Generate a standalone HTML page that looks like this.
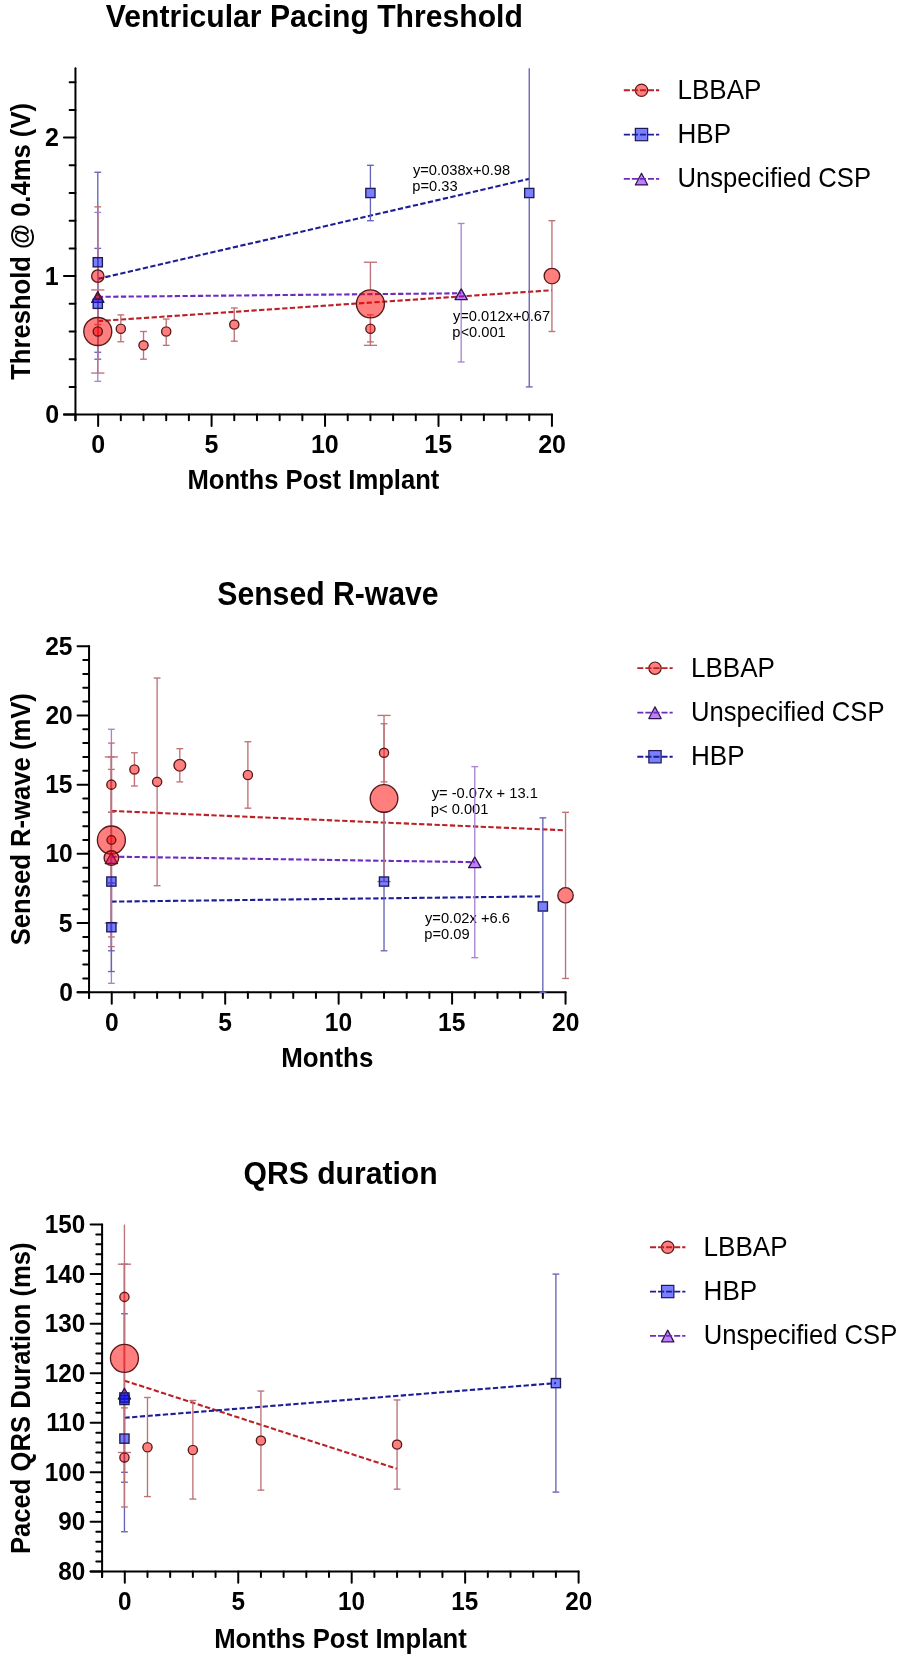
<!DOCTYPE html>
<html><head><meta charset="utf-8"><style>
html,body{margin:0;padding:0;background:#fff;}
svg{display:block;font-family:"Liberation Sans", sans-serif;will-change:transform;filter:blur(0.3px);}
text{fill:#000;}
</style></head><body>
<svg width="901" height="1661" viewBox="0 0 901 1661">
<rect width="901" height="1661" fill="#fff"/>
<text transform="translate(105.8 27.1) scale(1 1.0653)" font-size="30.153" font-weight="bold">Ventricular Pacing Threshold</text>
<line x1="75.45" y1="68.35" x2="75.45" y2="420.3" stroke="#000" stroke-width="2" stroke-linecap="round"/>
<line x1="63.95" y1="414.6" x2="551.94" y2="414.6" stroke="#000" stroke-width="2" stroke-linecap="round"/>
<line x1="63.95" y1="414.6" x2="75.45" y2="414.6" stroke="#000" stroke-width="2" stroke-linecap="round"/>
<text transform="translate(45.25 423.1) scale(1 1.0300)" font-size="25.000" font-weight="bold">0</text>
<line x1="69.65" y1="386.9" x2="75.45" y2="386.9" stroke="#000" stroke-width="2" stroke-linecap="round"/>
<line x1="69.65" y1="359.2" x2="75.45" y2="359.2" stroke="#000" stroke-width="2" stroke-linecap="round"/>
<line x1="69.65" y1="331.5" x2="75.45" y2="331.5" stroke="#000" stroke-width="2" stroke-linecap="round"/>
<line x1="69.65" y1="303.8" x2="75.45" y2="303.8" stroke="#000" stroke-width="2" stroke-linecap="round"/>
<line x1="63.95" y1="276.1" x2="75.45" y2="276.1" stroke="#000" stroke-width="2" stroke-linecap="round"/>
<text transform="translate(44.75 284.6) scale(1 1.0300)" font-size="25.000" font-weight="bold">1</text>
<line x1="69.65" y1="248.4" x2="75.45" y2="248.4" stroke="#000" stroke-width="2" stroke-linecap="round"/>
<line x1="69.65" y1="220.7" x2="75.45" y2="220.7" stroke="#000" stroke-width="2" stroke-linecap="round"/>
<line x1="69.65" y1="193" x2="75.45" y2="193" stroke="#000" stroke-width="2" stroke-linecap="round"/>
<line x1="69.65" y1="165.3" x2="75.45" y2="165.3" stroke="#000" stroke-width="2" stroke-linecap="round"/>
<line x1="63.95" y1="137.6" x2="75.45" y2="137.6" stroke="#000" stroke-width="2" stroke-linecap="round"/>
<text transform="translate(45 146.1) scale(1 1.0300)" font-size="25.000" font-weight="bold">2</text>
<line x1="69.65" y1="109.9" x2="75.45" y2="109.9" stroke="#000" stroke-width="2" stroke-linecap="round"/>
<line x1="69.65" y1="82.2" x2="75.45" y2="82.2" stroke="#000" stroke-width="2" stroke-linecap="round"/>
<line x1="75.45" y1="414.6" x2="75.45" y2="420.2" stroke="#000" stroke-width="2" stroke-linecap="round"/>
<line x1="98.14" y1="414.6" x2="98.14" y2="426" stroke="#000" stroke-width="2" stroke-linecap="round"/>
<text transform="translate(91.27 453.4) scale(1 1.0300)" font-size="25.000" font-weight="bold">0</text>
<line x1="120.83" y1="414.6" x2="120.83" y2="420.2" stroke="#000" stroke-width="2" stroke-linecap="round"/>
<line x1="143.52" y1="414.6" x2="143.52" y2="420.2" stroke="#000" stroke-width="2" stroke-linecap="round"/>
<line x1="166.21" y1="414.6" x2="166.21" y2="420.2" stroke="#000" stroke-width="2" stroke-linecap="round"/>
<line x1="188.9" y1="414.6" x2="188.9" y2="420.2" stroke="#000" stroke-width="2" stroke-linecap="round"/>
<line x1="211.59" y1="414.6" x2="211.59" y2="426" stroke="#000" stroke-width="2" stroke-linecap="round"/>
<text transform="translate(204.59 453.4) scale(1 1.0300)" font-size="25.000" font-weight="bold">5</text>
<line x1="234.28" y1="414.6" x2="234.28" y2="420.2" stroke="#000" stroke-width="2" stroke-linecap="round"/>
<line x1="256.97" y1="414.6" x2="256.97" y2="420.2" stroke="#000" stroke-width="2" stroke-linecap="round"/>
<line x1="279.66" y1="414.6" x2="279.66" y2="420.2" stroke="#000" stroke-width="2" stroke-linecap="round"/>
<line x1="302.35" y1="414.6" x2="302.35" y2="420.2" stroke="#000" stroke-width="2" stroke-linecap="round"/>
<line x1="325.04" y1="414.6" x2="325.04" y2="426" stroke="#000" stroke-width="2" stroke-linecap="round"/>
<text transform="translate(310.92 453.4) scale(1 1.0300)" font-size="25.000" font-weight="bold">10</text>
<line x1="347.73" y1="414.6" x2="347.73" y2="420.2" stroke="#000" stroke-width="2" stroke-linecap="round"/>
<line x1="370.42" y1="414.6" x2="370.42" y2="420.2" stroke="#000" stroke-width="2" stroke-linecap="round"/>
<line x1="393.11" y1="414.6" x2="393.11" y2="420.2" stroke="#000" stroke-width="2" stroke-linecap="round"/>
<line x1="415.8" y1="414.6" x2="415.8" y2="420.2" stroke="#000" stroke-width="2" stroke-linecap="round"/>
<line x1="438.49" y1="414.6" x2="438.49" y2="426" stroke="#000" stroke-width="2" stroke-linecap="round"/>
<text transform="translate(424.24 453.4) scale(1 1.0300)" font-size="25.000" font-weight="bold">15</text>
<line x1="461.18" y1="414.6" x2="461.18" y2="420.2" stroke="#000" stroke-width="2" stroke-linecap="round"/>
<line x1="483.87" y1="414.6" x2="483.87" y2="420.2" stroke="#000" stroke-width="2" stroke-linecap="round"/>
<line x1="506.56" y1="414.6" x2="506.56" y2="420.2" stroke="#000" stroke-width="2" stroke-linecap="round"/>
<line x1="529.25" y1="414.6" x2="529.25" y2="420.2" stroke="#000" stroke-width="2" stroke-linecap="round"/>
<line x1="551.94" y1="414.6" x2="551.94" y2="426" stroke="#000" stroke-width="2" stroke-linecap="round"/>
<text transform="translate(538.19 453.4) scale(1 1.0300)" font-size="25.000" font-weight="bold">20</text>
<text transform="translate(187.41 488.9) scale(1 1.0600)" font-size="25.641" font-weight="bold">Months Post Implant</text>
<text transform="translate(29.8 379.86) rotate(-90) scale(1 1.0837)" font-size="25.619" font-weight="bold">Threshold @ 0.4ms (V)</text>
<text transform="translate(412.9 174.9) scale(1 1.0000)" font-size="14.700" font-weight="normal">y=0.038x+0.98</text>
<text transform="translate(412.27 191) scale(1 1.0000)" font-size="14.700" font-weight="normal">p=0.33</text>
<text transform="translate(452.9 320.9) scale(1 1.0000)" font-size="14.700" font-weight="normal">y=0.012x+0.67</text>
<text transform="translate(452.27 336.5) scale(1 1.0000)" font-size="14.700" font-weight="normal">p&lt;0.001</text>
<line x1="97.79" y1="278.87" x2="529.25" y2="178.87" stroke="#1d1d98" stroke-width="2.1" stroke-dasharray="5.3 2.4"/>
<line x1="97.79" y1="296.88" x2="461.18" y2="293.27" stroke="#6c2cc0" stroke-width="2.1" stroke-dasharray="5.3 2.4"/>
<line x1="97.79" y1="321.11" x2="551.94" y2="290.23" stroke="#bb2026" stroke-width="2.1" stroke-dasharray="5.3 2.4"/>
<line x1="97.79" y1="172.23" x2="97.79" y2="257.05" stroke="#6664b6" stroke-width="1.35" />
<line x1="97.79" y1="267.45" x2="97.79" y2="352.28" stroke="#6664b6" stroke-width="1.35" />
<line x1="94.39" y1="352.28" x2="101.19" y2="352.28" stroke="#6664b6" stroke-width="1.35" />
<line x1="94.39" y1="172.23" x2="101.19" y2="172.23" stroke="#6664b6" stroke-width="1.35" />
<line x1="97.79" y1="248.4" x2="97.79" y2="298.6" stroke="#6664b6" stroke-width="1.35" />
<line x1="97.79" y1="309" x2="97.79" y2="359.2" stroke="#6664b6" stroke-width="1.35" />
<line x1="94.39" y1="359.2" x2="101.19" y2="359.2" stroke="#6664b6" stroke-width="1.35" />
<line x1="94.39" y1="248.4" x2="101.19" y2="248.4" stroke="#6664b6" stroke-width="1.35" />
<line x1="97.79" y1="212.39" x2="97.79" y2="291.38" stroke="#aa84d2" stroke-width="1.35" />
<line x1="97.79" y1="302.38" x2="97.79" y2="381.36" stroke="#aa84d2" stroke-width="1.35" />
<line x1="94.39" y1="381.36" x2="101.19" y2="381.36" stroke="#aa84d2" stroke-width="1.35" />
<line x1="94.39" y1="212.39" x2="101.19" y2="212.39" stroke="#aa84d2" stroke-width="1.35" />
<line x1="97.79" y1="206.85" x2="97.79" y2="269.3" stroke="#bd7178" stroke-width="1.35" />
<line x1="97.79" y1="282.9" x2="97.79" y2="345.35" stroke="#bd7178" stroke-width="1.35" />
<line x1="94.39" y1="345.35" x2="101.19" y2="345.35" stroke="#bd7178" stroke-width="1.35" />
<line x1="94.39" y1="206.85" x2="101.19" y2="206.85" stroke="#bd7178" stroke-width="1.35" />
<line x1="97.79" y1="289.95" x2="97.79" y2="316.9" stroke="#bd7178" stroke-width="1.35" />
<line x1="97.79" y1="346.1" x2="97.79" y2="373.05" stroke="#bd7178" stroke-width="1.35" />
<line x1="91.19" y1="373.05" x2="104.39" y2="373.05" stroke="#bd7178" stroke-width="1.35" />
<line x1="91.19" y1="289.95" x2="104.39" y2="289.95" stroke="#bd7178" stroke-width="1.35" />
<line x1="97.79" y1="324.58" x2="97.79" y2="331.5" stroke="#bd7178" stroke-width="1.35" />
<line x1="97.79" y1="331.5" x2="97.79" y2="338.43" stroke="#bd7178" stroke-width="1.35" />
<line x1="94.39" y1="324.58" x2="101.19" y2="324.58" stroke="#bd7178" stroke-width="1.35" />
<line x1="120.83" y1="314.88" x2="120.83" y2="323.43" stroke="#bd7178" stroke-width="1.35" />
<line x1="120.83" y1="334.03" x2="120.83" y2="341.75" stroke="#bd7178" stroke-width="1.35" />
<line x1="117.43" y1="341.75" x2="124.23" y2="341.75" stroke="#bd7178" stroke-width="1.35" />
<line x1="117.43" y1="314.88" x2="124.23" y2="314.88" stroke="#bd7178" stroke-width="1.35" />
<line x1="143.52" y1="331.5" x2="143.52" y2="340.05" stroke="#bd7178" stroke-width="1.35" />
<line x1="143.52" y1="350.65" x2="143.52" y2="359.2" stroke="#bd7178" stroke-width="1.35" />
<line x1="140.12" y1="359.2" x2="146.92" y2="359.2" stroke="#bd7178" stroke-width="1.35" />
<line x1="140.12" y1="331.5" x2="146.92" y2="331.5" stroke="#bd7178" stroke-width="1.35" />
<line x1="166.21" y1="319.04" x2="166.21" y2="326.2" stroke="#bd7178" stroke-width="1.35" />
<line x1="166.21" y1="336.8" x2="166.21" y2="345.35" stroke="#bd7178" stroke-width="1.35" />
<line x1="162.81" y1="345.35" x2="169.61" y2="345.35" stroke="#bd7178" stroke-width="1.35" />
<line x1="162.81" y1="319.04" x2="169.61" y2="319.04" stroke="#bd7178" stroke-width="1.35" />
<line x1="234.28" y1="307.96" x2="234.28" y2="319.28" stroke="#bd7178" stroke-width="1.35" />
<line x1="234.28" y1="329.88" x2="234.28" y2="341.2" stroke="#bd7178" stroke-width="1.35" />
<line x1="230.88" y1="341.2" x2="237.68" y2="341.2" stroke="#bd7178" stroke-width="1.35" />
<line x1="230.88" y1="307.96" x2="237.68" y2="307.96" stroke="#bd7178" stroke-width="1.35" />
<line x1="370.42" y1="165.3" x2="370.42" y2="187.8" stroke="#6664b6" stroke-width="1.35" />
<line x1="370.42" y1="198.2" x2="370.42" y2="220.7" stroke="#6664b6" stroke-width="1.35" />
<line x1="367.02" y1="220.7" x2="373.82" y2="220.7" stroke="#6664b6" stroke-width="1.35" />
<line x1="367.02" y1="165.3" x2="373.82" y2="165.3" stroke="#6664b6" stroke-width="1.35" />
<line x1="370.42" y1="262.25" x2="370.42" y2="289.2" stroke="#bd7178" stroke-width="1.35" />
<line x1="370.42" y1="318.4" x2="370.42" y2="345.35" stroke="#bd7178" stroke-width="1.35" />
<line x1="363.82" y1="345.35" x2="377.02" y2="345.35" stroke="#bd7178" stroke-width="1.35" />
<line x1="363.82" y1="262.25" x2="377.02" y2="262.25" stroke="#bd7178" stroke-width="1.35" />
<line x1="370.42" y1="314.88" x2="370.42" y2="323.43" stroke="#bd7178" stroke-width="1.35" />
<line x1="370.42" y1="334.03" x2="370.42" y2="341.89" stroke="#bd7178" stroke-width="1.35" />
<line x1="367.02" y1="341.89" x2="373.82" y2="341.89" stroke="#bd7178" stroke-width="1.35" />
<line x1="367.02" y1="314.88" x2="373.82" y2="314.88" stroke="#bd7178" stroke-width="1.35" />
<line x1="461.18" y1="223.47" x2="461.18" y2="288.61" stroke="#aa84d2" stroke-width="1.35" />
<line x1="461.18" y1="299.61" x2="461.18" y2="361.97" stroke="#aa84d2" stroke-width="1.35" />
<line x1="457.78" y1="361.97" x2="464.58" y2="361.97" stroke="#aa84d2" stroke-width="1.35" />
<line x1="457.78" y1="223.47" x2="464.58" y2="223.47" stroke="#aa84d2" stroke-width="1.35" />
<line x1="529.25" y1="68.35" x2="529.25" y2="187.8" stroke="#6664b6" stroke-width="1.35" />
<line x1="529.25" y1="198.2" x2="529.25" y2="386.9" stroke="#6664b6" stroke-width="1.35" />
<line x1="525.85" y1="386.9" x2="532.65" y2="386.9" stroke="#6664b6" stroke-width="1.35" />
<line x1="551.94" y1="220.7" x2="551.94" y2="267.7" stroke="#bd7178" stroke-width="1.35" />
<line x1="551.94" y1="284.5" x2="551.94" y2="331.5" stroke="#bd7178" stroke-width="1.35" />
<line x1="548.54" y1="331.5" x2="555.34" y2="331.5" stroke="#bd7178" stroke-width="1.35" />
<line x1="548.54" y1="220.7" x2="555.34" y2="220.7" stroke="#bd7178" stroke-width="1.35" />
<path d="M97.79 291.68L103.89 302.38L91.69 302.38Z" fill="rgba(128,0,255,0.5)" stroke="#2e1448" stroke-width="1.35" stroke-linejoin="round"/>
<path d="M461.18 288.91L467.28 299.61L455.08 299.61Z" fill="rgba(128,0,255,0.5)" stroke="#2e1448" stroke-width="1.35" stroke-linejoin="round"/>
<rect x="93.19" y="257.65" width="9.2" height="9.2" fill="rgba(0,10,255,0.52)" stroke="#1c1c55" stroke-width="1.35"/>
<rect x="93.19" y="299.2" width="9.2" height="9.2" fill="rgba(0,10,255,0.52)" stroke="#1c1c55" stroke-width="1.35"/>
<rect x="365.82" y="188.4" width="9.2" height="9.2" fill="rgba(0,10,255,0.52)" stroke="#1c1c55" stroke-width="1.35"/>
<rect x="524.65" y="188.4" width="9.2" height="9.2" fill="rgba(0,10,255,0.52)" stroke="#1c1c55" stroke-width="1.35"/>
<circle cx="97.79" cy="276.1" r="6.2" fill="rgba(255,0,0,0.5)" stroke="#5a1818" stroke-width="1.35"/>
<circle cx="97.79" cy="296.88" r="2.2" fill="rgba(255,0,0,0.5)" stroke="#5a1818" stroke-width="1.35"/>
<circle cx="97.79" cy="331.5" r="14" fill="rgba(255,0,0,0.5)" stroke="#5a1818" stroke-width="1.35"/>
<circle cx="97.79" cy="331.5" r="4.6" fill="rgba(255,0,0,0.5)" stroke="#5a1818" stroke-width="1.35"/>
<circle cx="120.83" cy="328.73" r="4.6" fill="rgba(255,0,0,0.5)" stroke="#5a1818" stroke-width="1.35"/>
<circle cx="143.52" cy="345.35" r="4.6" fill="rgba(255,0,0,0.5)" stroke="#5a1818" stroke-width="1.35"/>
<circle cx="166.21" cy="331.5" r="4.6" fill="rgba(255,0,0,0.5)" stroke="#5a1818" stroke-width="1.35"/>
<circle cx="234.28" cy="324.58" r="4.6" fill="rgba(255,0,0,0.5)" stroke="#5a1818" stroke-width="1.35"/>
<circle cx="370.42" cy="303.8" r="14" fill="rgba(255,0,0,0.5)" stroke="#5a1818" stroke-width="1.35"/>
<circle cx="370.42" cy="328.73" r="4.6" fill="rgba(255,0,0,0.5)" stroke="#5a1818" stroke-width="1.35"/>
<circle cx="551.94" cy="276.1" r="7.8" fill="rgba(255,0,0,0.5)" stroke="#5a1818" stroke-width="1.35"/>
<circle cx="641.5" cy="90.25" r="6.15" fill="rgba(255,0,0,0.5)" stroke="#5a1818" stroke-width="1.2"/>
<line x1="623.8" y1="90.25" x2="659.2" y2="90.25" stroke="#bb2026" stroke-width="1.8" stroke-dasharray="6.1 1.95"/>
<text transform="translate(677.42 98.7) scale(1 1.0489)" font-size="26.052" font-weight="normal">LBBAP</text>
<rect x="635.35" y="128.4" width="12.3" height="12.3" fill="rgba(0,10,255,0.52)" stroke="#1c1c55" stroke-width="1.2"/>
<line x1="623.8" y1="134.55" x2="659.2" y2="134.55" stroke="#1d1d98" stroke-width="1.8" stroke-dasharray="6.1 1.95"/>
<text transform="translate(677.41 143) scale(1 1.0472)" font-size="26.094" font-weight="normal">HBP</text>
<path d="M641.5 173.25L647.7 184.95L635.3 184.95Z" fill="rgba(128,0,255,0.5)" stroke="#2e1448" stroke-width="1.2" stroke-linejoin="round"/>
<line x1="623.8" y1="178.95" x2="659.2" y2="178.95" stroke="#6c2cc0" stroke-width="1.8" stroke-dasharray="6.1 1.95"/>
<text transform="translate(677.45 187.4) scale(1 1.0663)" font-size="25.626" font-weight="normal">Unspecified CSP</text>
<text transform="translate(217.29 605.3) scale(1 1.0740)" font-size="30.179" font-weight="bold">Sensed R-wave</text>
<line x1="89.05" y1="646.2" x2="89.05" y2="998" stroke="#000" stroke-width="2" stroke-linecap="round"/>
<line x1="77.55" y1="992.3" x2="565.54" y2="992.3" stroke="#000" stroke-width="2" stroke-linecap="round"/>
<line x1="77.55" y1="992.3" x2="89.05" y2="992.3" stroke="#000" stroke-width="2" stroke-linecap="round"/>
<text transform="translate(59.15 1000.8) scale(1 1.0200)" font-size="24.600" font-weight="bold">0</text>
<line x1="83.25" y1="978.46" x2="89.05" y2="978.46" stroke="#000" stroke-width="2" stroke-linecap="round"/>
<line x1="83.25" y1="964.61" x2="89.05" y2="964.61" stroke="#000" stroke-width="2" stroke-linecap="round"/>
<line x1="83.25" y1="950.77" x2="89.05" y2="950.77" stroke="#000" stroke-width="2" stroke-linecap="round"/>
<line x1="83.25" y1="936.92" x2="89.05" y2="936.92" stroke="#000" stroke-width="2" stroke-linecap="round"/>
<line x1="77.55" y1="923.08" x2="89.05" y2="923.08" stroke="#000" stroke-width="2" stroke-linecap="round"/>
<text transform="translate(58.66 931.58) scale(1 1.0200)" font-size="24.600" font-weight="bold">5</text>
<line x1="83.25" y1="909.24" x2="89.05" y2="909.24" stroke="#000" stroke-width="2" stroke-linecap="round"/>
<line x1="83.25" y1="895.39" x2="89.05" y2="895.39" stroke="#000" stroke-width="2" stroke-linecap="round"/>
<line x1="83.25" y1="881.55" x2="89.05" y2="881.55" stroke="#000" stroke-width="2" stroke-linecap="round"/>
<line x1="83.25" y1="867.7" x2="89.05" y2="867.7" stroke="#000" stroke-width="2" stroke-linecap="round"/>
<line x1="77.55" y1="853.86" x2="89.05" y2="853.86" stroke="#000" stroke-width="2" stroke-linecap="round"/>
<text transform="translate(45.38 862.36) scale(1 1.0200)" font-size="24.600" font-weight="bold">10</text>
<line x1="83.25" y1="840.02" x2="89.05" y2="840.02" stroke="#000" stroke-width="2" stroke-linecap="round"/>
<line x1="83.25" y1="826.17" x2="89.05" y2="826.17" stroke="#000" stroke-width="2" stroke-linecap="round"/>
<line x1="83.25" y1="812.33" x2="89.05" y2="812.33" stroke="#000" stroke-width="2" stroke-linecap="round"/>
<line x1="83.25" y1="798.48" x2="89.05" y2="798.48" stroke="#000" stroke-width="2" stroke-linecap="round"/>
<line x1="77.55" y1="784.64" x2="89.05" y2="784.64" stroke="#000" stroke-width="2" stroke-linecap="round"/>
<text transform="translate(45.13 793.14) scale(1 1.0200)" font-size="24.600" font-weight="bold">15</text>
<line x1="83.25" y1="770.8" x2="89.05" y2="770.8" stroke="#000" stroke-width="2" stroke-linecap="round"/>
<line x1="83.25" y1="756.95" x2="89.05" y2="756.95" stroke="#000" stroke-width="2" stroke-linecap="round"/>
<line x1="83.25" y1="743.11" x2="89.05" y2="743.11" stroke="#000" stroke-width="2" stroke-linecap="round"/>
<line x1="83.25" y1="729.26" x2="89.05" y2="729.26" stroke="#000" stroke-width="2" stroke-linecap="round"/>
<line x1="77.55" y1="715.42" x2="89.05" y2="715.42" stroke="#000" stroke-width="2" stroke-linecap="round"/>
<text transform="translate(45.38 723.92) scale(1 1.0200)" font-size="24.600" font-weight="bold">20</text>
<line x1="83.25" y1="701.58" x2="89.05" y2="701.58" stroke="#000" stroke-width="2" stroke-linecap="round"/>
<line x1="83.25" y1="687.73" x2="89.05" y2="687.73" stroke="#000" stroke-width="2" stroke-linecap="round"/>
<line x1="83.25" y1="673.89" x2="89.05" y2="673.89" stroke="#000" stroke-width="2" stroke-linecap="round"/>
<line x1="83.25" y1="660.04" x2="89.05" y2="660.04" stroke="#000" stroke-width="2" stroke-linecap="round"/>
<line x1="77.55" y1="646.2" x2="89.05" y2="646.2" stroke="#000" stroke-width="2" stroke-linecap="round"/>
<text transform="translate(45.13 654.7) scale(1 1.0200)" font-size="24.600" font-weight="bold">25</text>
<line x1="89.05" y1="992.3" x2="89.05" y2="997.9" stroke="#000" stroke-width="2" stroke-linecap="round"/>
<line x1="111.74" y1="992.3" x2="111.74" y2="1003.7" stroke="#000" stroke-width="2" stroke-linecap="round"/>
<text transform="translate(104.97 1031.2) scale(1 1.0200)" font-size="24.600" font-weight="bold">0</text>
<line x1="134.43" y1="992.3" x2="134.43" y2="997.9" stroke="#000" stroke-width="2" stroke-linecap="round"/>
<line x1="157.12" y1="992.3" x2="157.12" y2="997.9" stroke="#000" stroke-width="2" stroke-linecap="round"/>
<line x1="179.81" y1="992.3" x2="179.81" y2="997.9" stroke="#000" stroke-width="2" stroke-linecap="round"/>
<line x1="202.5" y1="992.3" x2="202.5" y2="997.9" stroke="#000" stroke-width="2" stroke-linecap="round"/>
<line x1="225.19" y1="992.3" x2="225.19" y2="1003.7" stroke="#000" stroke-width="2" stroke-linecap="round"/>
<text transform="translate(218.3 1031.2) scale(1 1.0200)" font-size="24.600" font-weight="bold">5</text>
<line x1="247.88" y1="992.3" x2="247.88" y2="997.9" stroke="#000" stroke-width="2" stroke-linecap="round"/>
<line x1="270.57" y1="992.3" x2="270.57" y2="997.9" stroke="#000" stroke-width="2" stroke-linecap="round"/>
<line x1="293.26" y1="992.3" x2="293.26" y2="997.9" stroke="#000" stroke-width="2" stroke-linecap="round"/>
<line x1="315.95" y1="992.3" x2="315.95" y2="997.9" stroke="#000" stroke-width="2" stroke-linecap="round"/>
<line x1="338.64" y1="992.3" x2="338.64" y2="1003.7" stroke="#000" stroke-width="2" stroke-linecap="round"/>
<text transform="translate(324.74 1031.2) scale(1 1.0200)" font-size="24.600" font-weight="bold">10</text>
<line x1="361.33" y1="992.3" x2="361.33" y2="997.9" stroke="#000" stroke-width="2" stroke-linecap="round"/>
<line x1="384.02" y1="992.3" x2="384.02" y2="997.9" stroke="#000" stroke-width="2" stroke-linecap="round"/>
<line x1="406.71" y1="992.3" x2="406.71" y2="997.9" stroke="#000" stroke-width="2" stroke-linecap="round"/>
<line x1="429.4" y1="992.3" x2="429.4" y2="997.9" stroke="#000" stroke-width="2" stroke-linecap="round"/>
<line x1="452.09" y1="992.3" x2="452.09" y2="1003.7" stroke="#000" stroke-width="2" stroke-linecap="round"/>
<text transform="translate(438.07 1031.2) scale(1 1.0200)" font-size="24.600" font-weight="bold">15</text>
<line x1="474.78" y1="992.3" x2="474.78" y2="997.9" stroke="#000" stroke-width="2" stroke-linecap="round"/>
<line x1="497.47" y1="992.3" x2="497.47" y2="997.9" stroke="#000" stroke-width="2" stroke-linecap="round"/>
<line x1="520.16" y1="992.3" x2="520.16" y2="997.9" stroke="#000" stroke-width="2" stroke-linecap="round"/>
<line x1="542.85" y1="992.3" x2="542.85" y2="997.9" stroke="#000" stroke-width="2" stroke-linecap="round"/>
<line x1="565.54" y1="992.3" x2="565.54" y2="1003.7" stroke="#000" stroke-width="2" stroke-linecap="round"/>
<text transform="translate(552.01 1031.2) scale(1 1.0200)" font-size="24.600" font-weight="bold">20</text>
<text transform="translate(281.18 1067.2) scale(1 1.0370)" font-size="25.930" font-weight="bold">Months</text>
<text transform="translate(29.7 945.37) rotate(-90) scale(1 1.0764)" font-size="25.656" font-weight="bold">Sensed R-wave (mV)</text>
<text transform="translate(431.7 798.2) scale(1 1.0000)" font-size="14.700" font-weight="normal">y= -0.07x + 13.1</text>
<text transform="translate(430.87 813.7) scale(1 1.0000)" font-size="14.700" font-weight="normal">p&lt; 0.001</text>
<text transform="translate(425 923.1) scale(1 1.0000)" font-size="14.700" font-weight="normal">y=0.02x +6.6</text>
<text transform="translate(424.27 938.9) scale(1 1.0000)" font-size="14.700" font-weight="normal">p=0.09</text>
<line x1="111.39" y1="810.94" x2="565.54" y2="830.33" stroke="#bb2026" stroke-width="2.1" stroke-dasharray="5.3 2.4"/>
<line x1="111.39" y1="856.63" x2="474.78" y2="862.17" stroke="#6c2cc0" stroke-width="2.1" stroke-dasharray="5.3 2.4"/>
<line x1="111.39" y1="901.62" x2="542.85" y2="896.36" stroke="#1d1d98" stroke-width="2.1" stroke-dasharray="5.3 2.4"/>
<line x1="111.39" y1="729.26" x2="111.39" y2="852.51" stroke="#aa84d2" stroke-width="1.35" />
<line x1="111.39" y1="863.51" x2="111.39" y2="983.3" stroke="#aa84d2" stroke-width="1.35" />
<line x1="107.99" y1="983.3" x2="114.79" y2="983.3" stroke="#aa84d2" stroke-width="1.35" />
<line x1="107.99" y1="729.26" x2="114.79" y2="729.26" stroke="#aa84d2" stroke-width="1.35" />
<line x1="111.39" y1="812.33" x2="111.39" y2="876.35" stroke="#6664b6" stroke-width="1.35" />
<line x1="111.39" y1="886.75" x2="111.39" y2="950.77" stroke="#6664b6" stroke-width="1.35" />
<line x1="107.99" y1="950.77" x2="114.79" y2="950.77" stroke="#6664b6" stroke-width="1.35" />
<line x1="107.99" y1="812.33" x2="114.79" y2="812.33" stroke="#6664b6" stroke-width="1.35" />
<line x1="111.39" y1="882.93" x2="111.39" y2="922.03" stroke="#6664b6" stroke-width="1.35" />
<line x1="111.39" y1="932.43" x2="111.39" y2="971.53" stroke="#6664b6" stroke-width="1.35" />
<line x1="107.99" y1="971.53" x2="114.79" y2="971.53" stroke="#6664b6" stroke-width="1.35" />
<line x1="107.99" y1="882.93" x2="114.79" y2="882.93" stroke="#6664b6" stroke-width="1.35" />
<line x1="111.39" y1="756.95" x2="111.39" y2="779.34" stroke="#bd7178" stroke-width="1.35" />
<line x1="111.39" y1="789.94" x2="111.39" y2="812.33" stroke="#bd7178" stroke-width="1.35" />
<line x1="107.99" y1="812.33" x2="114.79" y2="812.33" stroke="#bd7178" stroke-width="1.35" />
<line x1="107.99" y1="756.95" x2="114.79" y2="756.95" stroke="#bd7178" stroke-width="1.35" />
<line x1="111.39" y1="756.95" x2="111.39" y2="825.42" stroke="#bd7178" stroke-width="1.35" />
<line x1="111.39" y1="854.62" x2="111.39" y2="923.08" stroke="#bd7178" stroke-width="1.35" />
<line x1="104.79" y1="923.08" x2="117.99" y2="923.08" stroke="#bd7178" stroke-width="1.35" />
<line x1="104.79" y1="756.95" x2="117.99" y2="756.95" stroke="#bd7178" stroke-width="1.35" />
<line x1="111.39" y1="743.11" x2="111.39" y2="834.72" stroke="#bd7178" stroke-width="1.35" />
<line x1="111.39" y1="845.32" x2="111.39" y2="936.92" stroke="#bd7178" stroke-width="1.35" />
<line x1="107.99" y1="936.92" x2="114.79" y2="936.92" stroke="#bd7178" stroke-width="1.35" />
<line x1="107.99" y1="743.11" x2="114.79" y2="743.11" stroke="#bd7178" stroke-width="1.35" />
<line x1="111.39" y1="769.41" x2="111.39" y2="850.11" stroke="#bd7178" stroke-width="1.35" />
<line x1="111.39" y1="865.91" x2="111.39" y2="946.61" stroke="#bd7178" stroke-width="1.35" />
<line x1="107.99" y1="946.61" x2="114.79" y2="946.61" stroke="#bd7178" stroke-width="1.35" />
<line x1="107.99" y1="769.41" x2="114.79" y2="769.41" stroke="#bd7178" stroke-width="1.35" />
<line x1="134.43" y1="752.8" x2="134.43" y2="764.11" stroke="#bd7178" stroke-width="1.35" />
<line x1="134.43" y1="774.71" x2="134.43" y2="786.02" stroke="#bd7178" stroke-width="1.35" />
<line x1="131.03" y1="786.02" x2="137.83" y2="786.02" stroke="#bd7178" stroke-width="1.35" />
<line x1="131.03" y1="752.8" x2="137.83" y2="752.8" stroke="#bd7178" stroke-width="1.35" />
<line x1="157.12" y1="678.04" x2="157.12" y2="776.57" stroke="#bd7178" stroke-width="1.35" />
<line x1="157.12" y1="787.17" x2="157.12" y2="885.7" stroke="#bd7178" stroke-width="1.35" />
<line x1="153.72" y1="885.7" x2="160.52" y2="885.7" stroke="#bd7178" stroke-width="1.35" />
<line x1="153.72" y1="678.04" x2="160.52" y2="678.04" stroke="#bd7178" stroke-width="1.35" />
<line x1="179.81" y1="748.65" x2="179.81" y2="758.86" stroke="#bd7178" stroke-width="1.35" />
<line x1="179.81" y1="771.66" x2="179.81" y2="781.87" stroke="#bd7178" stroke-width="1.35" />
<line x1="176.41" y1="781.87" x2="183.21" y2="781.87" stroke="#bd7178" stroke-width="1.35" />
<line x1="176.41" y1="748.65" x2="183.21" y2="748.65" stroke="#bd7178" stroke-width="1.35" />
<line x1="247.88" y1="741.72" x2="247.88" y2="769.65" stroke="#bd7178" stroke-width="1.35" />
<line x1="247.88" y1="780.25" x2="247.88" y2="808.17" stroke="#bd7178" stroke-width="1.35" />
<line x1="244.48" y1="808.17" x2="251.28" y2="808.17" stroke="#bd7178" stroke-width="1.35" />
<line x1="244.48" y1="741.72" x2="251.28" y2="741.72" stroke="#bd7178" stroke-width="1.35" />
<line x1="384.02" y1="812.33" x2="384.02" y2="876.35" stroke="#6664b6" stroke-width="1.35" />
<line x1="384.02" y1="886.75" x2="384.02" y2="950.77" stroke="#6664b6" stroke-width="1.35" />
<line x1="380.62" y1="950.77" x2="387.42" y2="950.77" stroke="#6664b6" stroke-width="1.35" />
<line x1="380.62" y1="812.33" x2="387.42" y2="812.33" stroke="#6664b6" stroke-width="1.35" />
<line x1="384.02" y1="715.42" x2="384.02" y2="784.08" stroke="#bd7178" stroke-width="1.35" />
<line x1="384.02" y1="812.88" x2="384.02" y2="881.55" stroke="#bd7178" stroke-width="1.35" />
<line x1="377.42" y1="881.55" x2="390.62" y2="881.55" stroke="#bd7178" stroke-width="1.35" />
<line x1="377.42" y1="715.42" x2="390.62" y2="715.42" stroke="#bd7178" stroke-width="1.35" />
<line x1="384.02" y1="723.73" x2="384.02" y2="747.5" stroke="#bd7178" stroke-width="1.35" />
<line x1="384.02" y1="758.1" x2="384.02" y2="781.87" stroke="#bd7178" stroke-width="1.35" />
<line x1="380.62" y1="781.87" x2="387.42" y2="781.87" stroke="#bd7178" stroke-width="1.35" />
<line x1="380.62" y1="723.73" x2="387.42" y2="723.73" stroke="#bd7178" stroke-width="1.35" />
<line x1="474.78" y1="766.64" x2="474.78" y2="856.67" stroke="#aa84d2" stroke-width="1.35" />
<line x1="474.78" y1="867.67" x2="474.78" y2="957.69" stroke="#aa84d2" stroke-width="1.35" />
<line x1="471.38" y1="957.69" x2="478.18" y2="957.69" stroke="#aa84d2" stroke-width="1.35" />
<line x1="471.38" y1="766.64" x2="478.18" y2="766.64" stroke="#aa84d2" stroke-width="1.35" />
<line x1="542.85" y1="817.87" x2="542.85" y2="901.27" stroke="#6664b6" stroke-width="1.35" />
<line x1="542.85" y1="911.67" x2="542.85" y2="992.3" stroke="#6664b6" stroke-width="1.35" />
<line x1="539.45" y1="992.3" x2="546.25" y2="992.3" stroke="#6664b6" stroke-width="1.35" />
<line x1="539.45" y1="817.87" x2="546.25" y2="817.87" stroke="#6664b6" stroke-width="1.35" />
<line x1="565.54" y1="812.33" x2="565.54" y2="887.09" stroke="#bd7178" stroke-width="1.35" />
<line x1="565.54" y1="903.69" x2="565.54" y2="978.46" stroke="#bd7178" stroke-width="1.35" />
<line x1="562.14" y1="978.46" x2="568.94" y2="978.46" stroke="#bd7178" stroke-width="1.35" />
<line x1="562.14" y1="812.33" x2="568.94" y2="812.33" stroke="#bd7178" stroke-width="1.35" />
<path d="M111.39 852.81L117.49 863.51L105.29 863.51Z" fill="rgba(128,0,255,0.5)" stroke="#2e1448" stroke-width="1.35" stroke-linejoin="round"/>
<path d="M474.78 856.97L480.88 867.67L468.68 867.67Z" fill="rgba(128,0,255,0.5)" stroke="#2e1448" stroke-width="1.35" stroke-linejoin="round"/>
<rect x="106.79" y="876.95" width="9.2" height="9.2" fill="rgba(0,10,255,0.52)" stroke="#1c1c55" stroke-width="1.35"/>
<rect x="106.79" y="922.63" width="9.2" height="9.2" fill="rgba(0,10,255,0.52)" stroke="#1c1c55" stroke-width="1.35"/>
<rect x="379.42" y="876.95" width="9.2" height="9.2" fill="rgba(0,10,255,0.52)" stroke="#1c1c55" stroke-width="1.35"/>
<rect x="538.25" y="901.87" width="9.2" height="9.2" fill="rgba(0,10,255,0.52)" stroke="#1c1c55" stroke-width="1.35"/>
<circle cx="111.39" cy="784.64" r="4.6" fill="rgba(255,0,0,0.5)" stroke="#5a1818" stroke-width="1.35"/>
<circle cx="111.39" cy="840.02" r="14" fill="rgba(255,0,0,0.5)" stroke="#5a1818" stroke-width="1.35"/>
<circle cx="111.39" cy="840.02" r="4.4" fill="rgba(255,0,0,0.5)" stroke="#5a1818" stroke-width="1.35"/>
<circle cx="111.39" cy="858.01" r="7.3" fill="rgba(255,0,0,0.5)" stroke="#5a1818" stroke-width="1.35"/>
<circle cx="134.43" cy="769.41" r="4.6" fill="rgba(255,0,0,0.5)" stroke="#5a1818" stroke-width="1.35"/>
<circle cx="157.12" cy="781.87" r="4.6" fill="rgba(255,0,0,0.5)" stroke="#5a1818" stroke-width="1.35"/>
<circle cx="179.81" cy="765.26" r="5.85" fill="rgba(255,0,0,0.5)" stroke="#5a1818" stroke-width="1.35"/>
<circle cx="247.88" cy="774.95" r="4.6" fill="rgba(255,0,0,0.5)" stroke="#5a1818" stroke-width="1.35"/>
<circle cx="384.02" cy="752.8" r="4.6" fill="rgba(255,0,0,0.5)" stroke="#5a1818" stroke-width="1.35"/>
<circle cx="384.02" cy="798.48" r="13.8" fill="rgba(255,0,0,0.5)" stroke="#5a1818" stroke-width="1.35"/>
<circle cx="565.54" cy="895.39" r="7.7" fill="rgba(255,0,0,0.5)" stroke="#5a1818" stroke-width="1.35"/>
<circle cx="655" cy="668.15" r="6.15" fill="rgba(255,0,0,0.5)" stroke="#5a1818" stroke-width="1.2"/>
<line x1="637.3" y1="668.15" x2="672.7" y2="668.15" stroke="#bb2026" stroke-width="1.8" stroke-dasharray="6.1 1.95"/>
<text transform="translate(690.92 676.6) scale(1 1.0489)" font-size="26.052" font-weight="normal">LBBAP</text>
<path d="M655 706.85L661.2 718.55L648.8 718.55Z" fill="rgba(128,0,255,0.5)" stroke="#2e1448" stroke-width="1.2" stroke-linejoin="round"/>
<line x1="637.3" y1="712.55" x2="672.7" y2="712.55" stroke="#6c2cc0" stroke-width="1.8" stroke-dasharray="6.1 1.95"/>
<text transform="translate(690.95 721) scale(1 1.0663)" font-size="25.626" font-weight="normal">Unspecified CSP</text>
<rect x="648.85" y="750.6" width="12.3" height="12.3" fill="rgba(0,10,255,0.52)" stroke="#1c1c55" stroke-width="1.2"/>
<line x1="637.3" y1="756.75" x2="672.7" y2="756.75" stroke="#1d1d98" stroke-width="1.8" stroke-dasharray="6.1 1.95"/>
<text transform="translate(690.91 765.2) scale(1 1.0472)" font-size="26.094" font-weight="normal">HBP</text>
<text transform="translate(243.49 1183.6) scale(1 1.0566)" font-size="30.126" font-weight="bold">QRS duration</text>
<line x1="102.1" y1="1224.55" x2="102.1" y2="1577.1" stroke="#000" stroke-width="2" stroke-linecap="round"/>
<line x1="90.6" y1="1571.4" x2="578.59" y2="1571.4" stroke="#000" stroke-width="2" stroke-linecap="round"/>
<line x1="90.6" y1="1571.4" x2="102.1" y2="1571.4" stroke="#000" stroke-width="2" stroke-linecap="round"/>
<text transform="translate(58.3 1579.9) scale(1 1.0500)" font-size="24.300" font-weight="bold">80</text>
<line x1="96.3" y1="1561.49" x2="102.1" y2="1561.49" stroke="#000" stroke-width="2" stroke-linecap="round"/>
<line x1="96.3" y1="1551.58" x2="102.1" y2="1551.58" stroke="#000" stroke-width="2" stroke-linecap="round"/>
<line x1="96.3" y1="1541.67" x2="102.1" y2="1541.67" stroke="#000" stroke-width="2" stroke-linecap="round"/>
<line x1="96.3" y1="1531.76" x2="102.1" y2="1531.76" stroke="#000" stroke-width="2" stroke-linecap="round"/>
<line x1="90.6" y1="1521.85" x2="102.1" y2="1521.85" stroke="#000" stroke-width="2" stroke-linecap="round"/>
<text transform="translate(58.3 1530.35) scale(1 1.0500)" font-size="24.300" font-weight="bold">90</text>
<line x1="96.3" y1="1511.94" x2="102.1" y2="1511.94" stroke="#000" stroke-width="2" stroke-linecap="round"/>
<line x1="96.3" y1="1502.03" x2="102.1" y2="1502.03" stroke="#000" stroke-width="2" stroke-linecap="round"/>
<line x1="96.3" y1="1492.12" x2="102.1" y2="1492.12" stroke="#000" stroke-width="2" stroke-linecap="round"/>
<line x1="96.3" y1="1482.21" x2="102.1" y2="1482.21" stroke="#000" stroke-width="2" stroke-linecap="round"/>
<line x1="90.6" y1="1472.3" x2="102.1" y2="1472.3" stroke="#000" stroke-width="2" stroke-linecap="round"/>
<text transform="translate(44.69 1480.8) scale(1 1.0500)" font-size="24.300" font-weight="bold">100</text>
<line x1="96.3" y1="1462.39" x2="102.1" y2="1462.39" stroke="#000" stroke-width="2" stroke-linecap="round"/>
<line x1="96.3" y1="1452.48" x2="102.1" y2="1452.48" stroke="#000" stroke-width="2" stroke-linecap="round"/>
<line x1="96.3" y1="1442.57" x2="102.1" y2="1442.57" stroke="#000" stroke-width="2" stroke-linecap="round"/>
<line x1="96.3" y1="1432.66" x2="102.1" y2="1432.66" stroke="#000" stroke-width="2" stroke-linecap="round"/>
<line x1="90.6" y1="1422.75" x2="102.1" y2="1422.75" stroke="#000" stroke-width="2" stroke-linecap="round"/>
<text transform="translate(46.15 1431.25) scale(1 1.0500)" font-size="24.300" font-weight="bold">110</text>
<line x1="96.3" y1="1412.84" x2="102.1" y2="1412.84" stroke="#000" stroke-width="2" stroke-linecap="round"/>
<line x1="96.3" y1="1402.93" x2="102.1" y2="1402.93" stroke="#000" stroke-width="2" stroke-linecap="round"/>
<line x1="96.3" y1="1393.02" x2="102.1" y2="1393.02" stroke="#000" stroke-width="2" stroke-linecap="round"/>
<line x1="96.3" y1="1383.11" x2="102.1" y2="1383.11" stroke="#000" stroke-width="2" stroke-linecap="round"/>
<line x1="90.6" y1="1373.2" x2="102.1" y2="1373.2" stroke="#000" stroke-width="2" stroke-linecap="round"/>
<text transform="translate(44.69 1381.7) scale(1 1.0500)" font-size="24.300" font-weight="bold">120</text>
<line x1="96.3" y1="1363.29" x2="102.1" y2="1363.29" stroke="#000" stroke-width="2" stroke-linecap="round"/>
<line x1="96.3" y1="1353.38" x2="102.1" y2="1353.38" stroke="#000" stroke-width="2" stroke-linecap="round"/>
<line x1="96.3" y1="1343.47" x2="102.1" y2="1343.47" stroke="#000" stroke-width="2" stroke-linecap="round"/>
<line x1="96.3" y1="1333.56" x2="102.1" y2="1333.56" stroke="#000" stroke-width="2" stroke-linecap="round"/>
<line x1="90.6" y1="1323.65" x2="102.1" y2="1323.65" stroke="#000" stroke-width="2" stroke-linecap="round"/>
<text transform="translate(44.69 1332.15) scale(1 1.0500)" font-size="24.300" font-weight="bold">130</text>
<line x1="96.3" y1="1313.74" x2="102.1" y2="1313.74" stroke="#000" stroke-width="2" stroke-linecap="round"/>
<line x1="96.3" y1="1303.83" x2="102.1" y2="1303.83" stroke="#000" stroke-width="2" stroke-linecap="round"/>
<line x1="96.3" y1="1293.92" x2="102.1" y2="1293.92" stroke="#000" stroke-width="2" stroke-linecap="round"/>
<line x1="96.3" y1="1284.01" x2="102.1" y2="1284.01" stroke="#000" stroke-width="2" stroke-linecap="round"/>
<line x1="90.6" y1="1274.1" x2="102.1" y2="1274.1" stroke="#000" stroke-width="2" stroke-linecap="round"/>
<text transform="translate(44.69 1282.6) scale(1 1.0500)" font-size="24.300" font-weight="bold">140</text>
<line x1="96.3" y1="1264.19" x2="102.1" y2="1264.19" stroke="#000" stroke-width="2" stroke-linecap="round"/>
<line x1="96.3" y1="1254.28" x2="102.1" y2="1254.28" stroke="#000" stroke-width="2" stroke-linecap="round"/>
<line x1="96.3" y1="1244.37" x2="102.1" y2="1244.37" stroke="#000" stroke-width="2" stroke-linecap="round"/>
<line x1="96.3" y1="1234.46" x2="102.1" y2="1234.46" stroke="#000" stroke-width="2" stroke-linecap="round"/>
<line x1="90.6" y1="1224.55" x2="102.1" y2="1224.55" stroke="#000" stroke-width="2" stroke-linecap="round"/>
<text transform="translate(44.69 1233.05) scale(1 1.0500)" font-size="24.300" font-weight="bold">150</text>
<line x1="102.1" y1="1571.4" x2="102.1" y2="1577" stroke="#000" stroke-width="2" stroke-linecap="round"/>
<line x1="124.79" y1="1571.4" x2="124.79" y2="1582.8" stroke="#000" stroke-width="2" stroke-linecap="round"/>
<text transform="translate(118.11 1610.3) scale(1 1.0500)" font-size="24.300" font-weight="bold">0</text>
<line x1="147.48" y1="1571.4" x2="147.48" y2="1577" stroke="#000" stroke-width="2" stroke-linecap="round"/>
<line x1="170.17" y1="1571.4" x2="170.17" y2="1577" stroke="#000" stroke-width="2" stroke-linecap="round"/>
<line x1="192.86" y1="1571.4" x2="192.86" y2="1577" stroke="#000" stroke-width="2" stroke-linecap="round"/>
<line x1="215.55" y1="1571.4" x2="215.55" y2="1577" stroke="#000" stroke-width="2" stroke-linecap="round"/>
<line x1="238.24" y1="1571.4" x2="238.24" y2="1582.8" stroke="#000" stroke-width="2" stroke-linecap="round"/>
<text transform="translate(231.44 1610.3) scale(1 1.0500)" font-size="24.300" font-weight="bold">5</text>
<line x1="260.93" y1="1571.4" x2="260.93" y2="1577" stroke="#000" stroke-width="2" stroke-linecap="round"/>
<line x1="283.62" y1="1571.4" x2="283.62" y2="1577" stroke="#000" stroke-width="2" stroke-linecap="round"/>
<line x1="306.31" y1="1571.4" x2="306.31" y2="1577" stroke="#000" stroke-width="2" stroke-linecap="round"/>
<line x1="329" y1="1571.4" x2="329" y2="1577" stroke="#000" stroke-width="2" stroke-linecap="round"/>
<line x1="351.69" y1="1571.4" x2="351.69" y2="1582.8" stroke="#000" stroke-width="2" stroke-linecap="round"/>
<text transform="translate(337.96 1610.3) scale(1 1.0500)" font-size="24.300" font-weight="bold">10</text>
<line x1="374.38" y1="1571.4" x2="374.38" y2="1577" stroke="#000" stroke-width="2" stroke-linecap="round"/>
<line x1="397.07" y1="1571.4" x2="397.07" y2="1577" stroke="#000" stroke-width="2" stroke-linecap="round"/>
<line x1="419.76" y1="1571.4" x2="419.76" y2="1577" stroke="#000" stroke-width="2" stroke-linecap="round"/>
<line x1="442.45" y1="1571.4" x2="442.45" y2="1577" stroke="#000" stroke-width="2" stroke-linecap="round"/>
<line x1="465.14" y1="1571.4" x2="465.14" y2="1582.8" stroke="#000" stroke-width="2" stroke-linecap="round"/>
<text transform="translate(451.29 1610.3) scale(1 1.0500)" font-size="24.300" font-weight="bold">15</text>
<line x1="487.83" y1="1571.4" x2="487.83" y2="1577" stroke="#000" stroke-width="2" stroke-linecap="round"/>
<line x1="510.52" y1="1571.4" x2="510.52" y2="1577" stroke="#000" stroke-width="2" stroke-linecap="round"/>
<line x1="533.21" y1="1571.4" x2="533.21" y2="1577" stroke="#000" stroke-width="2" stroke-linecap="round"/>
<line x1="555.9" y1="1571.4" x2="555.9" y2="1577" stroke="#000" stroke-width="2" stroke-linecap="round"/>
<line x1="578.59" y1="1571.4" x2="578.59" y2="1582.8" stroke="#000" stroke-width="2" stroke-linecap="round"/>
<text transform="translate(565.23 1610.3) scale(1 1.0500)" font-size="24.300" font-weight="bold">20</text>
<text transform="translate(214.2 1647.7) scale(1 1.0631)" font-size="25.703" font-weight="bold">Months Post Implant</text>
<text transform="translate(29.7 1553.99) rotate(-90) scale(1 1.0780)" font-size="25.618" font-weight="bold">Paced QRS Duration (ms)</text>
<line x1="124.44" y1="1380.63" x2="397.07" y2="1468.83" stroke="#bb2026" stroke-width="2.1" stroke-dasharray="5.3 2.4"/>
<line x1="124.44" y1="1417.8" x2="555.9" y2="1383.11" stroke="#1d1d98" stroke-width="2.1" stroke-dasharray="5.3 2.4"/>
<line x1="124.44" y1="1313.74" x2="124.44" y2="1392.78" stroke="#6664b6" stroke-width="1.35" />
<line x1="124.44" y1="1403.18" x2="124.44" y2="1482.21" stroke="#6664b6" stroke-width="1.35" />
<line x1="121.04" y1="1482.21" x2="127.84" y2="1482.21" stroke="#6664b6" stroke-width="1.35" />
<line x1="121.04" y1="1313.74" x2="127.84" y2="1313.74" stroke="#6664b6" stroke-width="1.35" />
<line x1="124.44" y1="1402.93" x2="124.44" y2="1432.41" stroke="#6664b6" stroke-width="1.35" />
<line x1="124.44" y1="1442.82" x2="124.44" y2="1472.3" stroke="#6664b6" stroke-width="1.35" />
<line x1="121.04" y1="1472.3" x2="127.84" y2="1472.3" stroke="#6664b6" stroke-width="1.35" />
<line x1="121.04" y1="1402.93" x2="127.84" y2="1402.93" stroke="#6664b6" stroke-width="1.35" />
<line x1="124.44" y1="1264.19" x2="124.44" y2="1390.3" stroke="#6664b6" stroke-width="1.35" />
<line x1="124.44" y1="1400.7" x2="124.44" y2="1531.76" stroke="#6664b6" stroke-width="1.35" />
<line x1="121.04" y1="1531.76" x2="127.84" y2="1531.76" stroke="#6664b6" stroke-width="1.35" />
<line x1="121.04" y1="1264.19" x2="127.84" y2="1264.19" stroke="#6664b6" stroke-width="1.35" />
<line x1="124.44" y1="1224.55" x2="124.44" y2="1291.59" stroke="#bd7178" stroke-width="1.35" />
<line x1="124.44" y1="1302.19" x2="124.44" y2="1368.25" stroke="#bd7178" stroke-width="1.35" />
<line x1="124.44" y1="1264.19" x2="124.44" y2="1343.74" stroke="#bd7178" stroke-width="1.35" />
<line x1="124.44" y1="1372.93" x2="124.44" y2="1452.48" stroke="#bd7178" stroke-width="1.35" />
<line x1="117.84" y1="1452.48" x2="131.04" y2="1452.48" stroke="#bd7178" stroke-width="1.35" />
<line x1="117.84" y1="1264.19" x2="131.04" y2="1264.19" stroke="#bd7178" stroke-width="1.35" />
<line x1="124.44" y1="1407.88" x2="124.44" y2="1452.14" stroke="#bd7178" stroke-width="1.35" />
<line x1="124.44" y1="1462.74" x2="124.44" y2="1506.99" stroke="#bd7178" stroke-width="1.35" />
<line x1="121.04" y1="1506.99" x2="127.84" y2="1506.99" stroke="#bd7178" stroke-width="1.35" />
<line x1="121.04" y1="1407.88" x2="127.84" y2="1407.88" stroke="#bd7178" stroke-width="1.35" />
<line x1="147.48" y1="1397.48" x2="147.48" y2="1441.98" stroke="#bd7178" stroke-width="1.35" />
<line x1="147.48" y1="1452.58" x2="147.48" y2="1496.58" stroke="#bd7178" stroke-width="1.35" />
<line x1="144.08" y1="1496.58" x2="150.88" y2="1496.58" stroke="#bd7178" stroke-width="1.35" />
<line x1="144.08" y1="1397.48" x2="150.88" y2="1397.48" stroke="#bd7178" stroke-width="1.35" />
<line x1="192.86" y1="1400.45" x2="192.86" y2="1444.7" stroke="#bd7178" stroke-width="1.35" />
<line x1="192.86" y1="1455.3" x2="192.86" y2="1499.06" stroke="#bd7178" stroke-width="1.35" />
<line x1="189.46" y1="1499.06" x2="196.26" y2="1499.06" stroke="#bd7178" stroke-width="1.35" />
<line x1="189.46" y1="1400.45" x2="196.26" y2="1400.45" stroke="#bd7178" stroke-width="1.35" />
<line x1="260.93" y1="1391.04" x2="260.93" y2="1435.29" stroke="#bd7178" stroke-width="1.35" />
<line x1="260.93" y1="1445.89" x2="260.93" y2="1490.14" stroke="#bd7178" stroke-width="1.35" />
<line x1="257.53" y1="1490.14" x2="264.33" y2="1490.14" stroke="#bd7178" stroke-width="1.35" />
<line x1="257.53" y1="1391.04" x2="264.33" y2="1391.04" stroke="#bd7178" stroke-width="1.35" />
<line x1="397.07" y1="1399.96" x2="397.07" y2="1439.25" stroke="#bd7178" stroke-width="1.35" />
<line x1="397.07" y1="1449.85" x2="397.07" y2="1489.15" stroke="#bd7178" stroke-width="1.35" />
<line x1="393.67" y1="1489.15" x2="400.47" y2="1489.15" stroke="#bd7178" stroke-width="1.35" />
<line x1="393.67" y1="1399.96" x2="400.47" y2="1399.96" stroke="#bd7178" stroke-width="1.35" />
<line x1="555.9" y1="1274.1" x2="555.9" y2="1377.91" stroke="#6664b6" stroke-width="1.35" />
<line x1="555.9" y1="1388.31" x2="555.9" y2="1492.12" stroke="#6664b6" stroke-width="1.35" />
<line x1="552.5" y1="1492.12" x2="559.3" y2="1492.12" stroke="#6664b6" stroke-width="1.35" />
<line x1="552.5" y1="1274.1" x2="559.3" y2="1274.1" stroke="#6664b6" stroke-width="1.35" />
<path d="M124.44 1388.32L130.54 1399.02L118.34 1399.02Z" fill="rgba(128,0,255,0.5)" stroke="#2e1448" stroke-width="1.35" stroke-linejoin="round"/>
<rect x="119.84" y="1392.88" width="9.2" height="9.2" fill="rgba(0,10,255,0.52)" stroke="#1c1c55" stroke-width="1.35"/>
<rect x="119.84" y="1395.36" width="9.2" height="9.2" fill="rgba(0,10,255,0.52)" stroke="#1c1c55" stroke-width="1.35"/>
<rect x="119.84" y="1434.01" width="9.2" height="9.2" fill="rgba(0,10,255,0.52)" stroke="#1c1c55" stroke-width="1.35"/>
<rect x="551.3" y="1378.51" width="9.2" height="9.2" fill="rgba(0,10,255,0.52)" stroke="#1c1c55" stroke-width="1.35"/>
<circle cx="124.44" cy="1296.89" r="4.6" fill="rgba(255,0,0,0.5)" stroke="#5a1818" stroke-width="1.35"/>
<circle cx="124.44" cy="1358.34" r="14" fill="rgba(255,0,0,0.5)" stroke="#5a1818" stroke-width="1.35"/>
<circle cx="124.44" cy="1457.44" r="4.6" fill="rgba(255,0,0,0.5)" stroke="#5a1818" stroke-width="1.35"/>
<circle cx="147.48" cy="1447.28" r="4.6" fill="rgba(255,0,0,0.5)" stroke="#5a1818" stroke-width="1.35"/>
<circle cx="192.86" cy="1450" r="4.6" fill="rgba(255,0,0,0.5)" stroke="#5a1818" stroke-width="1.35"/>
<circle cx="260.93" cy="1440.59" r="4.6" fill="rgba(255,0,0,0.5)" stroke="#5a1818" stroke-width="1.35"/>
<circle cx="397.07" cy="1444.55" r="4.6" fill="rgba(255,0,0,0.5)" stroke="#5a1818" stroke-width="1.35"/>
<circle cx="667.7" cy="1247.25" r="6.15" fill="rgba(255,0,0,0.5)" stroke="#5a1818" stroke-width="1.2"/>
<line x1="650" y1="1247.25" x2="685.4" y2="1247.25" stroke="#bb2026" stroke-width="1.8" stroke-dasharray="6.1 1.95"/>
<text transform="translate(703.62 1255.7) scale(1 1.0489)" font-size="26.052" font-weight="normal">LBBAP</text>
<rect x="661.55" y="1285.4" width="12.3" height="12.3" fill="rgba(0,10,255,0.52)" stroke="#1c1c55" stroke-width="1.2"/>
<line x1="650" y1="1291.55" x2="685.4" y2="1291.55" stroke="#1d1d98" stroke-width="1.8" stroke-dasharray="6.1 1.95"/>
<text transform="translate(703.61 1300) scale(1 1.0472)" font-size="26.094" font-weight="normal">HBP</text>
<path d="M667.7 1330.15L673.9 1341.85L661.5 1341.85Z" fill="rgba(128,0,255,0.5)" stroke="#2e1448" stroke-width="1.2" stroke-linejoin="round"/>
<line x1="650" y1="1335.85" x2="685.4" y2="1335.85" stroke="#6c2cc0" stroke-width="1.8" stroke-dasharray="6.1 1.95"/>
<text transform="translate(703.65 1344.3) scale(1 1.0663)" font-size="25.626" font-weight="normal">Unspecified CSP</text>
</svg>
</body></html>
